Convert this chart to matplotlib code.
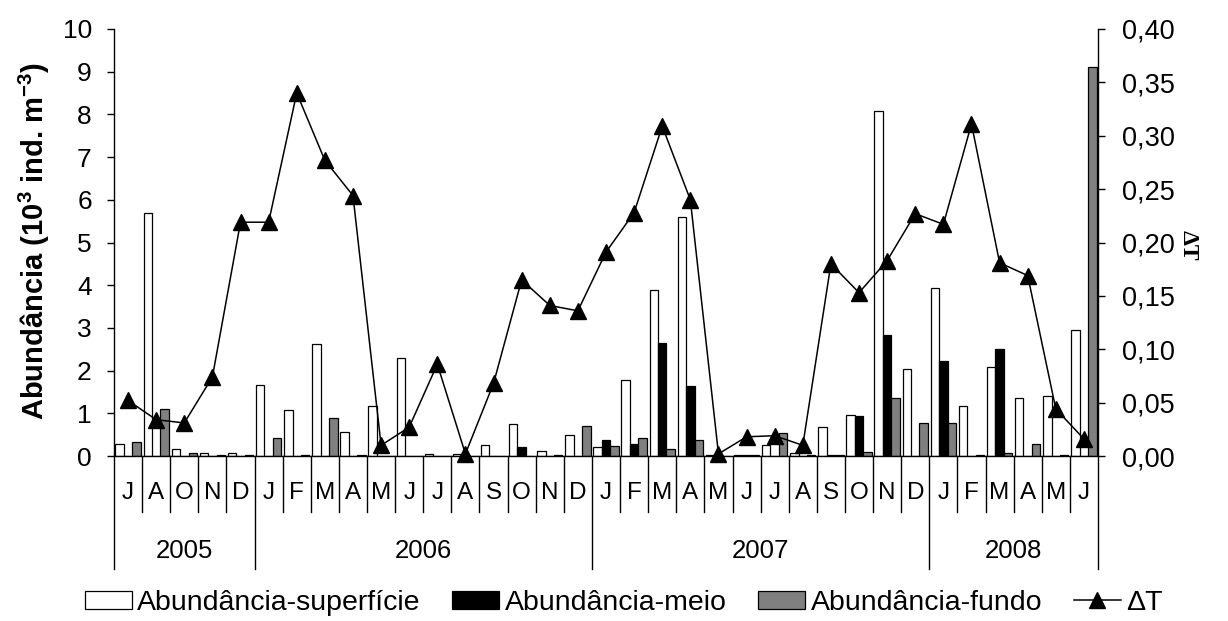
import matplotlib
matplotlib.use('Agg')
import matplotlib.pyplot as plt
import numpy as np
from matplotlib.transforms import blended_transform_factory
from matplotlib.ticker import MultipleLocator, FuncFormatter
from matplotlib.patches import Patch
from matplotlib.lines import Line2D

plt.rcParams['font.family'] = ['Liberation Sans', 'DejaVu Sans']
plt.rcParams['mathtext.fontset'] = 'custom'
plt.rcParams['mathtext.rm'] = 'Liberation Sans'
plt.rcParams['mathtext.bf'] = 'Liberation Sans:bold'

# Monthly sampling, June 2005 - June 2008
months = ['J', 'A', 'O', 'N', 'D',
          'J', 'F', 'M', 'A', 'M', 'J', 'J', 'A', 'S', 'O', 'N', 'D',
          'J', 'F', 'M', 'A', 'M', 'J', 'J', 'A', 'S', 'O', 'N', 'D',
          'J', 'F', 'M', 'A', 'M', 'J']
years = ['2005', '2006', '2007', '2008']
months_per_year = [5, 12, 12, 6]

# Abundance (10^3 ind. m^-3) by depth layer
superficie = [0.27, 5.69, 0.16, 0.07, 0.07,
              1.66, 1.08, 2.63, 0.57, 1.16, 2.29, 0.05, 0.05, 0.25, 0.75, 0.12, 0.50,
              0.20, 1.79, 3.89, 5.60, 0.03, 0.03, 0.26, 0.07, 0.67, 0.97, 8.09, 2.04,
              3.93, 1.16, 2.08, 1.37, 1.41, 2.95]
meio = [0.00, 0.00, 0.00, 0.00, 0.00,
        0.00, 0.00, 0.00, 0.00, 0.00, 0.00, 0.00, 0.00, 0.00, 0.21, 0.00, 0.00,
        0.37, 0.29, 2.64, 1.63, 0.00, 0.02, 0.00, 0.00, 0.02, 0.93, 2.84, 0.00,
        2.22, 0.00, 2.51, 0.00, 0.00, 0.00]
fundo = [0.33, 1.11, 0.07, 0.03, 0.03,
         0.41, 0.03, 0.88, 0.03, 0.00, 0.00, 0.00, 0.00, 0.00, 0.00, 0.03, 0.71,
         0.23, 0.41, 0.16, 0.37, 0.00, 0.03, 0.54, 0.03, 0.02, 0.10, 1.37, 0.78,
         0.78, 0.02, 0.07, 0.27, 0.02, 9.10]
delta_t = [0.052, 0.034, 0.031, 0.074, 0.219,
           0.219, 0.340, 0.277, 0.244, 0.010, 0.027, 0.086, 0.002, 0.068, 0.165, 0.141, 0.136,
           0.191, 0.228, 0.309, 0.240, 0.002, 0.018, 0.019, 0.010, 0.180, 0.153, 0.183, 0.227,
           0.217, 0.311, 0.181, 0.169, 0.044, 0.016]

W, H = 1228, 621
fig = plt.figure(figsize=(W / 100, H / 100), dpi=100)
ax = fig.add_axes([114 / W, 165 / H, 984 / W, 427 / H])

x = np.arange(len(months))
bw = 0.3
edge = dict(edgecolor='black', linewidth=0.9)
ax.bar(x - bw, superficie, bw, color='white', **edge)
ax.bar(x, meio, bw, color='black', **edge)
ax.bar(x + bw, fundo, bw, color='#808080', **edge)

ax.set_xlim(-0.5, len(months) - 0.5)
ax.set_ylim(0, 10)
ax.yaxis.set_major_locator(MultipleLocator(1))
ax.set_xticks([])
for s in ('top', 'right'):
    ax.spines[s].set_visible(False)
ax.spines['left'].set_linewidth(1.0)
ax.spines['bottom'].set_linewidth(1.0)
ax.tick_params(axis='y', direction='out', length=5, width=1, labelsize=19, pad=11)

# Temperature difference on secondary axis
ax2 = ax.twinx()
ax2.plot(x, delta_t, color='black', lw=1.1, marker='^', markersize=12, clip_on=False)
ax2.set_ylim(0, 0.4)
ax2.yaxis.set_major_locator(MultipleLocator(0.05))
ax2.yaxis.set_major_formatter(FuncFormatter(lambda v, p: f'{v:.2f}'.replace('.', ',')))
for s in ('top', 'left', 'bottom'):
    ax2.spines[s].set_visible(False)
ax2.spines['right'].set_linewidth(1.0)
ax2.tick_params(axis='y', direction='out', length=5, width=1, labelsize=19.5, pad=12)

# Two-level category axis: month separators and year separators
trans = blended_transform_factory(ax.transData, ax.transAxes)
bounds = np.arange(len(months) + 1) - 0.5
year_bounds = set((np.concatenate([[0], np.cumsum(months_per_year)]) - 0.5).tolist())
month_low, year_low = -0.1304, -0.2646
for b in bounds:
    low = year_low if b in year_bounds else month_low
    ax.plot([b, b], [0, low], transform=trans, color='black', lw=1.0, clip_on=False)
for xi, m in zip(x, months):
    ax.text(xi, -0.0867, m, transform=trans, ha='center', va='center', fontsize=17.5)
start = 0
for yr, n in zip(years, months_per_year):
    ax.text(start + n / 2 - 0.5, -0.2225, yr, transform=trans, ha='center', va='center',
            fontsize=18.5)
    start += n

fig.text(34 / W, 1 - 241 / H, r'Abundância (10$^{\mathbf{3}}$ ind. m$^{\mathbf{-3}}$)',
         rotation=90, ha='center', va='center', fontsize=21, fontweight='bold')
fig.text(1188 / W, 1 - 245 / H, 'ΔT', rotation=270, ha='center', va='center',
         fontsize=17, fontweight='bold', family=['Liberation Serif', 'DejaVu Serif'])

handles = [Patch(facecolor='white', edgecolor='black', linewidth=0.9),
           Patch(facecolor='black', edgecolor='black', linewidth=0.9),
           Patch(facecolor='#808080', edgecolor='black', linewidth=0.9),
           Line2D([], [], color='black', lw=1.1, marker='^', markersize=12)]
labels = ['Abundância-superfície', 'Abundância-meio', 'Abundância-fundo', 'ΔT']
fig.legend(handles, labels, loc='center', bbox_to_anchor=(0.508, 1 - 603 / H), ncol=4,
           frameon=False, fontsize=20.5, handlelength=1.65, handleheight=0.6,
           handletextpad=0.2, columnspacing=1.1, borderaxespad=0, borderpad=0)

fig.savefig('out.png', dpi=100)
